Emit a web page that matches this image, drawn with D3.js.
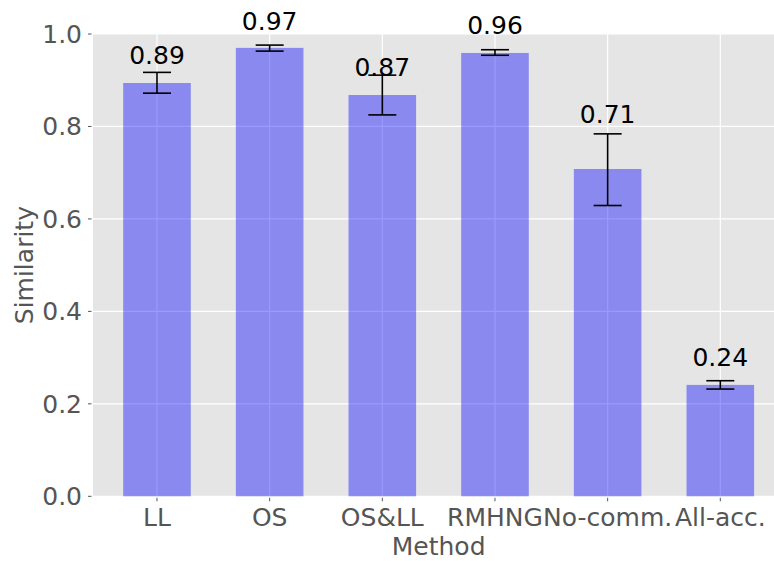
<!DOCTYPE html>
<html><head><meta charset="utf-8">
<script src="https://cdn.jsdelivr.net/npm/d3@7"></script>
<style>
body{margin:0;background:#fff;}
svg{display:block;font-family:"DejaVu Sans",sans-serif;}
</style></head>
<body>
<svg id="c" width="774" height="561"></svg>
<script>
const categories = ["LL","OS","OS&LL","RMHNG","No-comm.","All-acc."];
const values = [0.894, 0.970, 0.868, 0.959, 0.708, 0.241];
const errLow = [0.872, 0.963, 0.825, 0.954, 0.629, 0.232];
const errHigh = [0.917, 0.976, 0.911, 0.966, 0.784, 0.250];
const valueLabels = ["0.89","0.97","0.87","0.96","0.71","0.24"];
const labelAnchor = [0.923, 0.997, 0.896, 0.987, 0.795, 0.270];
const yTicks = [0.0, 0.2, 0.4, 0.6, 0.8, 1.0];

const svg = d3.select("#c");
const fs = 25;
const pLeft = 93, pTop = 34, pBottom = 496.3, pRight = 784.3;
const x = d3.scaleLinear().domain([-0.568, 5.568]).range([pLeft, pRight]);
const y = d3.scaleLinear().domain([0, 1]).range([pBottom, pTop]);
const bw = x(0.3) - x(0);

svg.append("rect").attr("x", pLeft).attr("y", pTop).attr("width", pRight-pLeft).attr("height", pBottom-pTop).attr("fill", "#e5e5e5");

// grid
const g = svg.append("g");
g.selectAll("line.hy").data(yTicks).join("line")
  .attr("x1", pLeft).attr("x2", pRight).attr("y1", d=>y(d)).attr("y2", d=>y(d))
  .attr("stroke", "#fff").attr("stroke-width", 1.2);
g.selectAll("line.vx").data(categories).join("line")
  .attr("x1", (d,i)=>x(i)).attr("x2", (d,i)=>x(i)).attr("y1", pTop).attr("y2", pBottom)
  .attr("stroke", "#fff").attr("stroke-width", 1.2);

// bars
svg.selectAll("rect.bar").data(values).join("rect")
  .attr("x", (d,i)=>x(i)-bw).attr("width", 2*bw)
  .attr("y", d=>y(d)).attr("height", d=>y(0)-y(d))
  .attr("fill", "rgb(0,0,255)").attr("fill-opacity", 0.4);

// error bars
const eb = svg.append("g").attr("stroke", "#000").attr("stroke-width", 1.6);
categories.forEach((c,i)=>{
  eb.append("line").attr("x1", x(i)).attr("x2", x(i)).attr("y1", y(errLow[i])).attr("y2", y(errHigh[i]));
  [errLow[i], errHigh[i]].forEach(v=>{
    eb.append("line").attr("x1", x(i)-14).attr("x2", x(i)+14).attr("y1", y(v)).attr("y2", y(v));
  });
});

// value labels
svg.selectAll("text.vl").data(valueLabels).join("text")
  .attr("x", (d,i)=>x(i)).attr("y", (d,i)=>y(labelAnchor[i]) - 5.6)
  .attr("text-anchor", "middle").attr("font-size", fs).attr("fill", "#000")
  .text(d=>d);

// y axis ticks
const ya = svg.append("g");
yTicks.forEach(t=>{
  ya.append("line").attr("x1", pLeft-5).attr("x2", pLeft-1.5).attr("y1", y(t)).attr("y2", y(t)).attr("stroke", "#555").attr("stroke-width", 1);
  ya.append("text").attr("x", 82).attr("y", y(t)).attr("dy", "0.36em").attr("text-anchor", "end")
    .attr("font-size", fs).attr("fill", "#555").text(d3.format(".1f")(t));
});

// x axis ticks
const xa = svg.append("g");
categories.forEach((c,i)=>{
  xa.append("line").attr("x1", x(i)).attr("x2", x(i)).attr("y1", pBottom+1.5).attr("y2", pBottom+5).attr("stroke", "#555").attr("stroke-width", 1);
  xa.append("text").attr("x", x(i)).attr("y", 526).attr("text-anchor", "middle")
    .attr("font-size", fs).attr("fill", "#555").text(c);
});

svg.append("text").attr("x", (pLeft+pRight)/2).attr("y", 555).attr("text-anchor", "middle")
  .attr("font-size", fs).attr("fill", "#555").text("Method");
svg.append("text").attr("transform", `translate(32.5,${(pTop+pBottom)/2}) rotate(-90)`).attr("text-anchor", "middle")
  .attr("font-size", fs).attr("fill", "#555").text("Similarity");
</script>
</body></html>
